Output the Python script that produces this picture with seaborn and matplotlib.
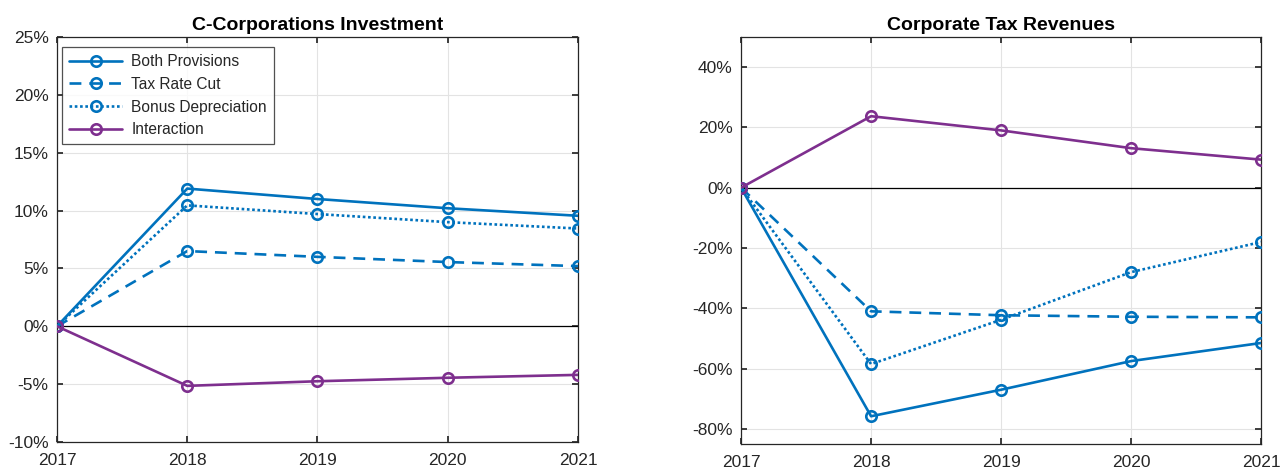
import matplotlib
matplotlib.use("Agg")
import matplotlib.pyplot as plt
import seaborn as sns
import pandas as pd
from matplotlib.ticker import FuncFormatter

years = [2017, 2018, 2019, 2020, 2021]
series_names = ["Both Provisions", "Tax Rate Cut", "Bonus Depreciation", "Interaction"]

# C-Corporations investment, percent change
inv_both = [0.0, 11.9, 11.0, 10.2, 9.55]
inv_tax = [0.0, 6.5, 6.0, 5.55, 5.2]
inv_bonus = [0.0, 10.45, 9.7, 9.0, 8.45]
inv_inter = [0.0, -5.15, -4.75, -4.45, -4.2]

# Corporate tax revenues, percent change
rev_both = [0.0, -75.8, -67.0, -57.5, -51.5]
rev_tax = [0.0, -41.0, -42.3, -42.8, -43.0]
rev_bonus = [0.0, -58.5, -43.8, -28.0, -18.0]
rev_inter = [0.0, 23.7, 19.0, 13.1, 9.3]

blue = "#0072BD"
purple = "#7E2F8E"
styles = {
    "Both Provisions": (blue, "-"),
    "Tax Rate Cut": (blue, (0, (4.5, 3))),
    "Bonus Depreciation": (blue, (0, (1, 1))),
    "Interaction": (purple, "-"),
}

sns.set_theme(style="white")
plt.rcParams["font.family"] = ["Liberation Sans", "DejaVu Sans"]

fig = plt.figure(figsize=(12.81, 4.69), dpi=100)
ax1 = fig.add_axes([0.0445, 0.0576, 0.4067, 0.8635])
ax2 = fig.add_axes([0.5785, 0.0533, 0.4060, 0.8680])


def draw(ax, values, title, ylim, yticks):
    for name, vals in zip(series_names, values):
        color, ls = styles[name]
        df = pd.DataFrame({"year": years, "value": vals})
        sns.lineplot(data=df, x="year", y="value", ax=ax, color=color,
                     linestyle=ls, linewidth=1.9, marker="o", markersize=7.5,
                     markerfacecolor="none", markeredgecolor=color,
                     markeredgewidth=1.9, label=name, zorder=3)
    ax.axhline(0, color="black", linewidth=0.9, zorder=2)
    ax.set_xlim(2017, 2021)
    ax.set_ylim(*ylim)
    ax.set_xticks(years)
    ax.set_yticks(yticks)
    ax.yaxis.set_major_formatter(FuncFormatter(lambda v, p: f"{v:.0f}%"))
    ax.grid(True, color="#e3e3e3", linewidth=0.8, zorder=0)
    ax.set_axisbelow(True)
    ax.set_xlabel("")
    ax.set_ylabel("")
    ax.set_title(title, fontsize=14, fontweight="bold", color="black", pad=5)
    ax.tick_params(axis="both", which="both", direction="in", length=4,
                   labelsize=12.5, labelcolor="#262626", color="#262626",
                   top=True, right=True, left=True, bottom=True)
    ax.tick_params(axis="x", pad=8)
    ax.tick_params(axis="y", pad=6)
    for sp in ax.spines.values():
        sp.set_visible(True)
        sp.set_color("#262626")
        sp.set_linewidth(0.9)


draw(ax1, [inv_both, inv_tax, inv_bonus, inv_inter],
     "C-Corporations Investment", (-10, 25), list(range(-10, 26, 5)))
draw(ax2, [rev_both, rev_tax, rev_bonus, rev_inter],
     "Corporate Tax Revenues", (-85, 50), list(range(-80, 41, 20)))

leg = ax1.legend(loc="upper left", bbox_to_anchor=(0.01, 0.975), fontsize=11.2,
                 frameon=True, fancybox=False, edgecolor="#262626",
                 handlelength=3.4, borderpad=0.45, labelspacing=0.5,
                 handletextpad=0.6, borderaxespad=0.0)
leg.get_frame().set_linewidth(0.9)
ax2.get_legend().remove()

fig.savefig("out.png", dpi=100)
